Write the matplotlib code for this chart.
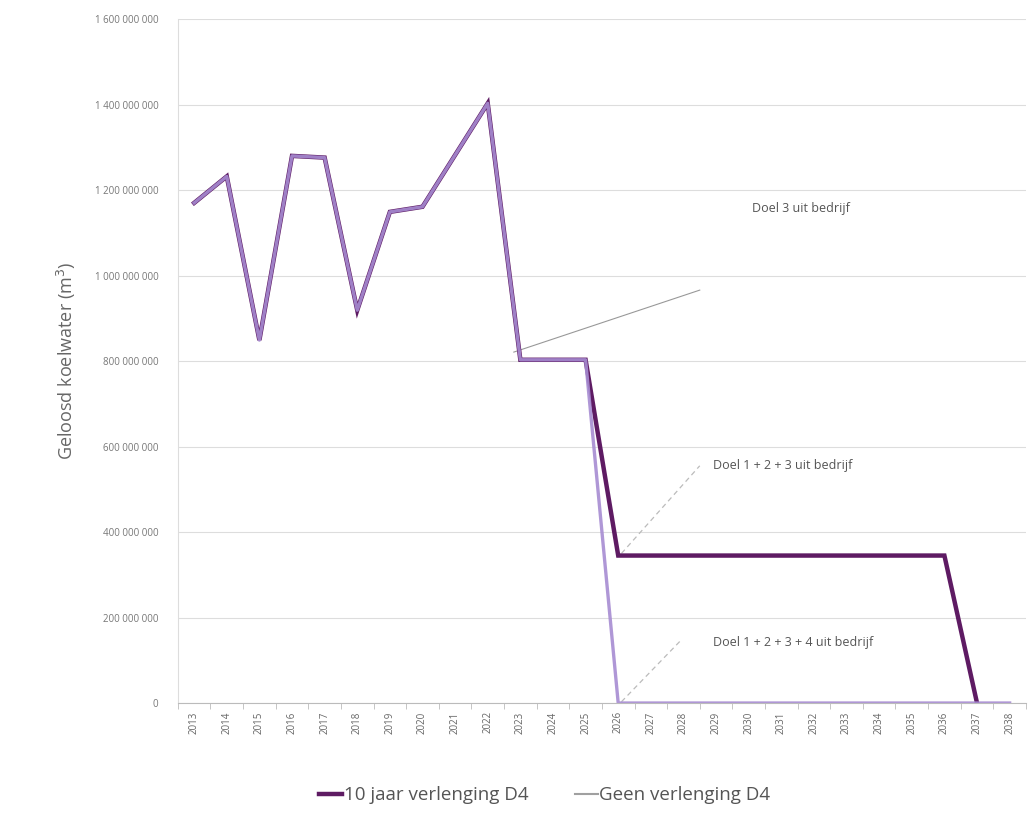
import matplotlib
matplotlib.use('Agg')
import matplotlib.pyplot as plt
from matplotlib.ticker import FuncFormatter, FixedLocator

plt.rcParams['font.family'] = ['Open Sans', 'DejaVu Sans']

# --- Datos ---
jaren = list(range(2013, 2039))
verlenging_10 = [1170e6, 1232e6, 849e6, 1280e6, 1276e6, 919e6, 1149e6, 1161e6, 1282e6, 1403e6,
                 803e6, 803e6, 803e6, 345e6, 345e6, 345e6, 345e6, 345e6, 345e6, 345e6,
                 345e6, 345e6, 345e6, 345e6, 0, None]
geen_verlenging = [1170e6, 1232e6, 849e6, 1280e6, 1276e6, 919e6, 1149e6, 1161e6, 1282e6, 1403e6,
                   803e6, 803e6, 803e6, 0, 0, 0, 0, 0, 0, 0,
                   0, 0, 0, 0, 0, 0]
y_ticks = [0, 200e6, 400e6, 600e6, 800e6, 1000e6, 1200e6, 1400e6, 1600e6]

x = list(range(len(jaren)))
x10 = [i for i, v in zip(x, verlenging_10) if v is not None]
y10 = [v for v in verlenging_10 if v is not None]

fig = plt.figure(figsize=(10.28, 8.31), dpi=100)
ax = fig.add_axes([0.173, 0.154, 0.825, 0.823])

ax.plot(x10, y10, color='#5e1b63', lw=3.2, solid_joinstyle='miter', zorder=3,
        label='10 jaar verlenging D4')
ax.plot(x, geen_verlenging, color='#a78cd2', lw=2.4, zorder=4, alpha=0.9)
# Legenda-handle in grijs voor de tweede reeks
ax.plot([], [], color='#a0a0a0', lw=1.5, label='Geen verlenging D4')

# Annotaties
ax.plot([9.8, 15.5], [821e6, 966e6], color='#999999', lw=0.8, zorder=2)
ax.text(17.1, 1158e6, 'Doel 3 uit bedrijf', fontsize=9, color='#555555', va='center')
ax.plot([13.1, 15.5], [350e6, 555e6], color='#bbbbbb', lw=0.9, ls=(0, (4, 3)), zorder=2)
ax.text(15.9, 555e6, 'Doel 1 + 2 + 3 uit bedrijf', fontsize=9, color='#555555', va='center')
ax.plot([13.1, 14.9], [3e6, 145e6], color='#bbbbbb', lw=0.9, ls=(0, (4, 3)), zorder=2)
ax.text(15.9, 142e6, 'Doel 1 + 2 + 3 + 4 uit bedrijf', fontsize=9, color='#555555', va='center')

ax.set_xlim(-0.5, len(jaren) - 0.5)
ax.set_ylim(0, 1600e6)
ax.set_yticks(y_ticks)
ax.yaxis.set_major_formatter(FuncFormatter(lambda v, p: f"{int(v):,}".replace(',', ' ')))
ax.set_xticks(x)
ax.set_xticklabels([str(j) for j in jaren], rotation=90, fontsize=7, color='#666666')
ax.xaxis.set_minor_locator(FixedLocator([i - 0.5 for i in range(len(jaren) + 1)]))
ax.tick_params(axis='x', which='major', length=0, pad=6)
ax.tick_params(axis='x', which='minor', length=4, color='#bbbbbb')
ax.tick_params(axis='y', length=0, labelsize=7, labelcolor='#777777', pad=14)

ax.grid(axis='y', color='#dddddd', lw=0.8)
ax.set_axisbelow(True)
for s in ['top', 'right']:
    ax.spines[s].set_visible(False)
ax.spines['left'].set_color('#dddddd')
ax.spines['bottom'].set_color('#bbbbbb')

ax.set_ylabel('Geloosd koelwater (m$^3$)', fontsize=13, color='#666666', labelpad=12)

leg = fig.legend(loc='center', bbox_to_anchor=(0.53, 0.043), ncol=2, frameon=False,
                 fontsize=13.5, handlelength=1.2, handletextpad=0.1, columnspacing=2.5)
for t in leg.get_texts():
    t.set_color('#555555')

fig.savefig('out.png', dpi=100, facecolor='white')
